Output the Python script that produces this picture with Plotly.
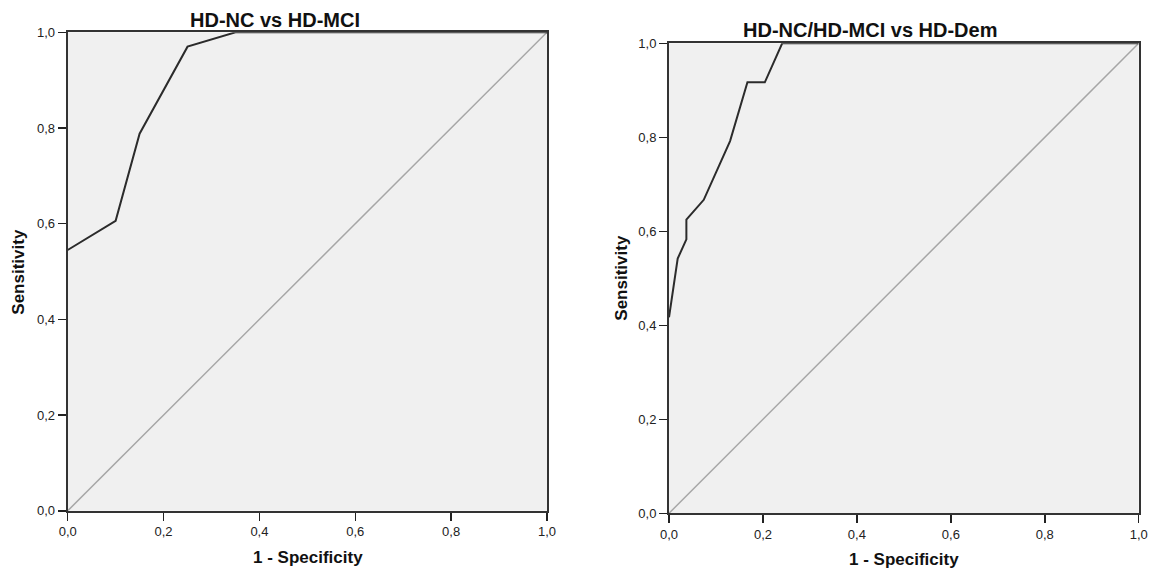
import plotly.graph_objects as go

W, H = 1149, 569

# Left ROC: HD-NC vs HD-MCI
left_fpr = [0.0, 0.10, 0.15, 0.25, 0.35, 1.0]
left_tpr = [0.545, 0.606, 0.788, 0.970, 1.0, 1.0]

# Right ROC: HD-NC/HD-MCI vs HD-Dem
right_fpr = [0.0, 0.0185, 0.037, 0.037, 0.074, 0.130, 0.167, 0.204, 0.241, 1.0]
right_tpr = [0.417, 0.542, 0.583, 0.625, 0.667, 0.792, 0.917, 0.917, 1.0, 1.0]

ref_line = [0.0, 1.0]
tick_vals = [0.0, 0.2, 0.4, 0.6, 0.8, 1.0]

titles = ["HD-NC vs HD-MCI", "HD-NC/HD-MCI vs HD-Dem"]
x_title = "1 - Specificity"
y_title = "Sensitivity"

FONT = "Liberation Sans, Arial, sans-serif"

def px_x(p):
    return p / W

def px_y(p):
    return 1 - p / H

# plot-area pixel boxes: (left, right, top, bottom)
boxes = [(67.7, 547.0, 32.3, 510.8), (669.0, 1138.7, 43.3, 513.3)]

fig = go.Figure()

for i, (fx, ty) in enumerate([(left_fpr, left_tpr), (right_fpr, right_tpr)]):
    xa = "x" if i == 0 else "x2"
    ya = "y" if i == 0 else "y2"
    fig.add_trace(go.Scatter(x=ref_line, y=ref_line, mode="lines",
                             line=dict(color="#a6a6a6", width=1.5),
                             xaxis=xa, yaxis=ya, showlegend=False,
                             cliponaxis=False, hoverinfo="skip"))
    fig.add_trace(go.Scatter(x=fx, y=ty, mode="lines",
                             line=dict(color="#2b2b2b", width=2),
                             xaxis=xa, yaxis=ya, showlegend=False,
                             cliponaxis=False))

axis_common = dict(
    range=[0, 1], tickvals=tick_vals, tickformat=".1f",
    showgrid=False, zeroline=False, automargin=False,
    showline=True, linecolor="#333333", linewidth=2, mirror=True,
    ticks="outside", ticklen=8, tickwidth=1.5, tickcolor="#222222",
    tickfont=dict(family=FONT, size=13, color="#222222"),
)

layout = dict(
    template="none",
    width=W, height=H,
    margin=dict(l=0, r=0, t=0, b=0, pad=0, autoexpand=False),
    paper_bgcolor="white",
    plot_bgcolor="#f0f0f0",
    separators=",.",
    font=dict(family=FONT),
    showlegend=False,
)

for i, (l, r, t, b) in enumerate(boxes):
    sfx = "" if i == 0 else "2"
    layout["xaxis" + sfx] = dict(axis_common, domain=[px_x(l), px_x(r)],
                                 anchor="y" + sfx)
    layout["yaxis" + sfx] = dict(axis_common, domain=[px_y(b), px_y(t)],
                                 anchor="x" + sfx)

fig.update_layout(**layout)

annos = []
title_pos = [(274.5, 19.5), (869.5, 29.7)]
xt_pos = [(308.3, 557.0), (904.0, 559.5)]
yt_pos = [(19.0, 271.7), (620.7, 278.0)]
for i in range(2):
    annos.append(dict(text="<b>%s</b>" % titles[i], x=px_x(title_pos[i][0]),
                      y=px_y(title_pos[i][1]), xref="paper", yref="paper",
                      showarrow=False, xanchor="center", yanchor="middle",
                      font=dict(family=FONT, size=20, color="#111111")))
    annos.append(dict(text="<b>%s</b>" % x_title, x=px_x(xt_pos[i][0]),
                      y=px_y(xt_pos[i][1]), xref="paper", yref="paper",
                      showarrow=False, xanchor="center", yanchor="middle",
                      font=dict(family=FONT, size=17, color="#111111")))
    annos.append(dict(text="<b>%s</b>" % y_title, x=px_x(yt_pos[i][0]),
                      y=px_y(yt_pos[i][1]), xref="paper", yref="paper",
                      showarrow=False, xanchor="center", yanchor="middle",
                      textangle=-90,
                      font=dict(family=FONT, size=17, color="#111111")))
fig.update_layout(annotations=annos)

fig.write_html(
    "out.html",
    config={"displayModeBar": False, "staticPlot": True},
    post_script="document.body.style.margin='0';document.body.style.overflow='hidden';",
)
